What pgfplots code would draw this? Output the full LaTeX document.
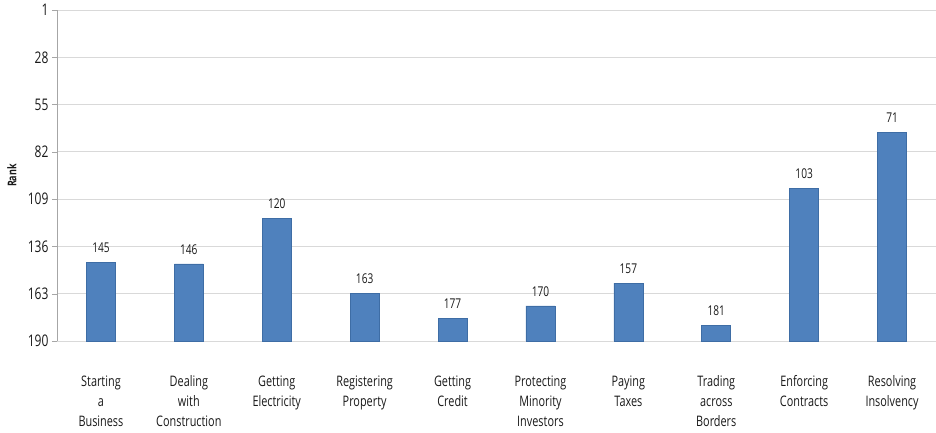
\documentclass[border=0pt]{standalone}
\usepackage{fontspec}
\setmainfont[FakeStretch=0.75]{Open Sans}
\usepackage{pgfplots}
\pgfplotsset{compat=1.18}
\usepackage{pgfplotstable}

\definecolor{barblue}{HTML}{4F81BD}
\definecolor{baredge}{HTML}{3E6DA5}
\definecolor{gridgray}{HTML}{D9D9D9}
\definecolor{axisgray}{HTML}{A6A6A6}

% Rank of each indicator (1 = best, 190 = worst)
\pgfplotstableread{
idx rank
0 145
1 146
2 120
3 163
4 177
5 170
6 157
7 181
8 103
9 71
}\ranks

\begin{document}
\begin{tikzpicture}
\begin{axis}[
  scale only axis,
  width=879pt, height=331pt,
  xmin=-0.5, xmax=9.5,
  ymin=1, ymax=190,
  enlargelimits=false,
  axis lines=left,
  axis line style={-, draw=axisgray},
  x axis line style={draw=none},
  ybar, bar width=29pt,
  ymajorgrids, grid style={draw=gridgray, line width=0.8pt},
  % bars rise from rank 190 towards rank 1
  ytick={1,28,55,82,109,136,163,190},
  yticklabels={190,163,136,109,82,55,28,1},
  ytick align=outside,
  major tick length=5pt,
  ytick style={draw=axisgray},
  yticklabel style={font=\fontsize{16}{16}\selectfont, text=black!90},
  xtick={0,...,9},
  xtick style={draw=none},
  xticklabels={
    {Starting\\a\\Business},
    {Dealing\\with\\Construction},
    {Getting\\Electricity},
    {Registering\\Property},
    {Getting\\Credit},
    {Protecting\\Minority\\Investors},
    {Paying\\Taxes},
    {Trading\\across\\Borders},
    {Enforcing\\Contracts},
    {Resolving\\Insolvency}},
  xticklabel style={align=center, anchor=north, yshift=-26pt,
    font=\fontsize{14.5}{20}\selectfont, text=black!90},
  ylabel={\textbf{Rank}},
  every axis y label/.style={at={(axis description cs:0,0.5)},
    xshift=-45pt, rotate=90, anchor=center,
    font=\fontsize{12}{12}\selectfont, text=black!90},
  /pgf/number format/assume math mode=true,
  nodes near coords,
  every node near coord/.append style={font=\fontsize{13.5}{13.5}\selectfont,
    text=black!90, anchor=south, yshift=6pt},
  clip=true,
]
\addplot[fill=barblue, draw=baredge, line width=0.6pt,
  point meta=explicit]
  table[x=idx, y expr=191-\thisrow{rank}, meta=rank] {\ranks};
\end{axis}
\pgfresetboundingbox
\path[use as bounding box] (-57pt,-91pt) rectangle (879pt,341pt);
\end{tikzpicture}
\end{document}
